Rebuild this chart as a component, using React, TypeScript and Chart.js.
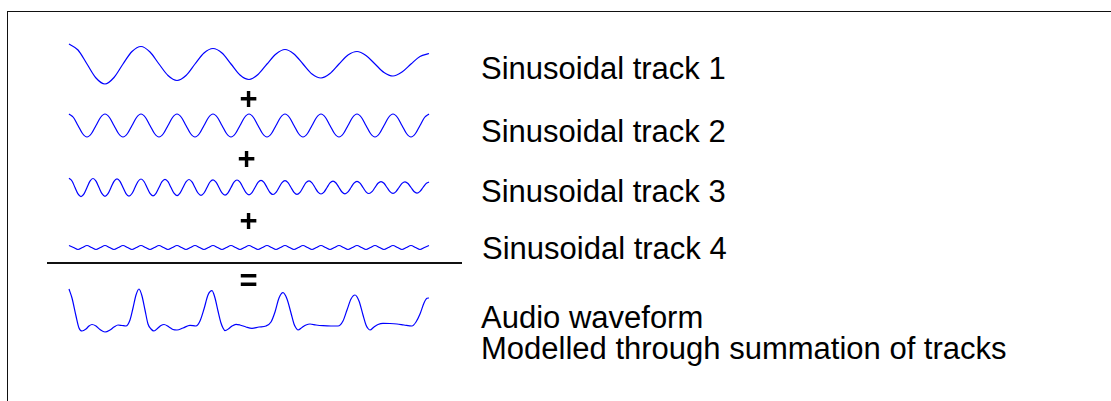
import React, { useEffect, useRef } from "react";
import { Chart, registerables } from "chart.js";

Chart.register(...registerables);

// ---- data (sample index along the time axis, 0..360) ----
const track1X = [0, 9, 18, 27, 36, 45, 54, 63, 72, 81, 90, 99, 108, 117, 126, 135, 144, 153, 162, 171, 180, 189, 198, 207, 216, 225, 234, 243, 252, 261, 270, 279, 288, 297, 306, 315, 324, 333, 342, 351, 360];
const track1Y = [20, 14, 0, -14, -20, -13.5, 0, 12.5, 17.5, 12, 0, -11.5, -16.5, -11.5, 0, 11, 15.5, 11, 0, -11, -15.5, -10.5, 0, 10, 14.5, 10, 0, -10, -14, -9.5, 0, 9, 12.5, 8.5, 0, -8.5, -12, -8, 0, 7.5, 10.5];

const track2X = [0, 4.5, 9, 13.5, 18, 22.5, 27, 31.5, 36, 40.5, 45, 49.5, 54, 58.5, 63, 67.5, 72, 76.5, 81, 85.5, 90, 94.5, 99, 103.5, 108, 112.5, 117, 121.5, 126, 130.5, 135, 139.5, 144, 148.5, 153, 157.5, 162, 166.5, 171, 175.5, 180, 184.5, 189, 193.5, 198, 202.5, 207, 211.5, 216, 220.5, 225, 229.5, 234, 238.5, 243, 247.5, 252, 256.5, 261, 265.5, 270, 274.5, 279, 283.5, 288, 292.5, 297, 301.5, 306, 310.5, 315, 319.5, 324, 328.5, 333, 337.5, 342, 346.5, 351, 355.5, 360];
const track2Y = [
  11.5, 8, 0, -8, -11.5, -8, 0, 8,
  11.5, 8, 0, -8, -11.5, -8, 0, 8,
  11.5, 8, 0, -8, -11.5, -8, 0, 8,
  11.5, 8, 0, -8, -11.5, -8, 0, 8,
  11.5, 8, 0, -8, -11.5, -8, 0, 8,
  11.5, 8, 0, -8, -11.5, -8, 0, 8,
  11.5, 8, 0, -8, -11.5, -8, 0, 8,
  11.5, 8, 0, -8, -11.5, -8, 0, 8,
  11.5, 8, 0, -8, -11.5, -8, 0, 8,
  11.5, 8, 0, -8, -11.5, -8, 0, 8,
  11.5,
];

const track3X = [0, 3, 6, 9, 12, 15, 18, 21, 24, 27, 30, 33, 36, 39, 42, 45, 48, 51, 54, 57, 60, 63, 66, 69, 72, 75, 78, 81, 84, 87, 90, 93, 96, 99, 102, 105, 108, 111, 114, 117, 120, 123, 126, 129, 132, 135, 138, 141, 144, 147, 150, 153, 156, 159, 162, 165, 168, 171, 174, 177, 180, 183, 186, 189, 192, 195, 198, 201, 204, 207, 210, 213, 216, 219, 222, 225, 228, 231, 234, 237, 240, 243, 246, 249, 252, 255, 258, 261, 264, 267, 270, 273, 276, 279, 282, 285, 288, 291, 294, 297, 300, 303, 306, 309, 312, 315, 318, 321, 324, 327, 330, 333, 336, 339, 342, 345, 348, 351, 354, 357, 360];
const track3Y = [
  9.2, 6.5, 0, -6.4, -9.1, -6.4, 0, 6.4,
  9.0, 6.3, 0, -6.2, -8.8, -6.2, 0, 6.2,
  8.7, 6.2, 0, -6.1, -8.6, -6.0, 0, 6.0,
  8.5, 6.0, 0, -5.9, -8.3, -5.8, 0, 5.8,
  8.2, 5.8, 0, -5.7, -8.1, -5.6, 0, 5.6,
  8.0, 5.6, 0, -5.5, -7.8, -5.5, 0, 5.5,
  7.7, 5.4, 0, -5.4, -7.6, -5.3, 0, 5.3,
  7.5, 5.3, 0, -5.2, -7.3, -5.1, 0, 5.1,
  7.2, 5.1, 0, -5.0, -7.0, -4.9, 0, 4.9,
  6.9, 4.9, 0, -4.8, -6.8, -4.8, 0, 4.8,
  6.7, 4.7, 0, -4.6, -6.5, -4.6, 0, 4.6,
  6.4, 4.5, 0, -4.5, -6.3, -4.4, 0, 4.4,
  6.2, 4.4, 0, -4.3, -6.0, -4.2, 0, 4.2,
  5.9, 4.2, 0, -4.1, -5.8, -4.1, 0, 4.1,
  5.7, 4.0, 0, -4.0, -5.6, -3.9, 0, 3.9,
  5.5,
];

const track4X = [0, 4.5, 9, 13.5, 18, 22.5, 27, 31.5, 36, 40.5, 45, 49.5, 54, 58.5, 63, 67.5, 72, 76.5, 81, 85.5, 90, 94.5, 99, 103.5, 108, 112.5, 117, 121.5, 126, 130.5, 135, 139.5, 144, 148.5, 153, 157.5, 162, 166.5, 171, 175.5, 180, 184.5, 189, 193.5, 198, 202.5, 207, 211.5, 216, 220.5, 225, 229.5, 234, 238.5, 243, 247.5, 252, 256.5, 261, 265.5, 270, 274.5, 279, 283.5, 288, 292.5, 297, 301.5, 306, 310.5, 315, 319.5, 324, 328.5, 333, 337.5, 342, 346.5, 351, 355.5, 360];
const track4Y = [
  2, 0, -2, 0, 2, 0, -2, 0, 2, 0, -2, 0, 2, 0, -2, 0, 2, 0, -2, 0,
  2, 0, -2, 0, 2, 0, -2, 0, 2, 0, -2, 0, 2, 0, -2, 0, 2, 0, -2, 0,
  2, 0, -2, 0, 2, 0, -2, 0, 2, 0, -2, 0, 2, 0, -2, 0, 2, 0, -2, 0,
  2, 0, -2, 0, 2, 0, -2, 0, 2, 0, -2, 0, 2, 0, -2, 0, 2, 0, -2, 0,
  2,
];

const audioX = [0, 3, 7, 10, 13, 17, 20, 23, 27, 31, 36, 41, 45, 49, 53, 57, 61, 64, 67, 70, 73, 76, 79, 82, 85, 89, 92, 95, 100, 104, 108, 114, 121, 127, 131, 135, 139, 143, 146, 149, 152, 154, 156, 160, 163, 167, 171, 177, 183, 190, 197, 202, 206, 210, 214, 218, 222, 225, 227, 229, 233, 237, 241, 247, 254, 262, 269, 274, 278, 282, 286, 290, 294, 297, 299, 301, 305, 309, 314, 321, 328, 335, 343, 347, 351, 355, 358, 360];
const audioY = [37, 28, 10, -2, -5, -3, 0, 1.5, 0, -3.5, -6, -4, -1, 1, 0.5, 0, 6, 18, 31, 37, 30, 16, 2, -3, -5, -2, 0.5, 1.5, -1, -3.5, -4, -2, 0.7, 0, 5, 17, 31, 35.3, 28, 15, 3, -2, -4.7, -2.5, 0, 1.7, 1, -1, -2.3, -1, 0, 4, 14, 28, 33.3, 27, 13, 2, -2, -4, -1.5, 1, 2, 1, 0.3, 0, 0, 5, 16, 27, 31, 25, 11, 1, -2.5, -4, -1, 1.5, 2.7, 2.5, 2, 1, 0, 4, 12, 23, 27.7, 28];

const trackLabels = ["Sinusoidal track 1", "Sinusoidal track 2", "Sinusoidal track 3", "Sinusoidal track 4"];
const resultLabels = ["Audio waveform", "Modelled through summation of tracks"];
const operators = ["+", "+", "+", "="];

const FONT = '"Liberation Sans", Arial, Helvetica, sans-serif';
const LINE_COLOR = "#0000ff";

type WaveProps = { xs: number[]; ys: number[]; top: number; height: number; yMin: number; yMax: number };

function Wave({ xs, ys, top, height, yMin, yMax }: WaveProps) {
  const ref = useRef<HTMLCanvasElement | null>(null);
  useEffect(() => {
    if (!ref.current) return;
    const chart = new Chart(ref.current, {
      type: "line",
      data: {
        datasets: [
          {
            data: xs.map((x, i) => ({ x, y: ys[i] })),
            borderColor: LINE_COLOR,
            borderWidth: 1.2,
            pointRadius: 0,
            fill: false,
            cubicInterpolationMode: "monotone",
            clip: false as any,
          },
        ],
      },
      options: {
        animation: false,
        responsive: false,
        maintainAspectRatio: false,
        events: [],
        layout: { padding: { left: 4, right: 4, top: 4, bottom: 4 } },
        plugins: { legend: { display: false }, tooltip: { enabled: false } },
        scales: {
          x: { type: "linear", min: 0, max: 360, display: false },
          y: { type: "linear", min: yMin, max: yMax, display: false },
        },
      },
    });
    return () => chart.destroy();
  }, [xs, ys, yMin, yMax]);
  return (
    <canvas
      ref={ref}
      width={368}
      height={height}
      style={{ position: "absolute", left: 65, top, width: 368, height }}
    />
  );
}

const FS = 31;

function Text({ lines, left, baseline, center, bold, lineStep }: { lines: string[]; left: number; baseline: number; center?: boolean; bold?: boolean; lineStep?: number }) {
  const lh = lineStep ?? 26;
  const top = baseline - (lh / 2 + 0.3465 * FS);
  return (
    <div
      style={{
        position: "absolute",
        left: center ? left - 30 : left,
        width: center ? 60 : undefined,
        textAlign: center ? "center" : "left",
        top,
        fontFamily: FONT,
        fontSize: FS,
        fontWeight: bold ? "bold" : "normal",
        lineHeight: `${lh}px`,
        color: "#000",
        whiteSpace: "nowrap",
      }}
    >
      {lines.map((l, i) => (
        <React.Fragment key={i}>
          {i > 0 && <br />}
          {l}
        </React.Fragment>
      ))}
    </div>
  );
}

export default function App() {
  const labelBaselines = [80, 143, 203, 260];
  const resultBaseline = 328;
  const opCenters = [248.5, 246.5, 248.5, 248.5];
  const opBaselines = [109.5, 170, 231.5, 291.5];
  return (
    <div
      style={{
        position: "fixed",
        left: 0,
        top: 0,
        width: 1111,
        height: 401,
        background: "#fff",
        overflow: "hidden",
      }}
    >
      <div
        style={{
          position: "absolute",
          left: 7,
          top: 11,
          width: 1200,
          height: 500,
          borderLeft: "1px solid #111",
          borderTop: "1px solid #111",
        }}
      />
      <Wave xs={track1X} ys={track1Y} top={36} height={56} yMin={-24} yMax={24} />
      <Wave xs={track2X} ys={track2Y} top={108} height={36} yMin={-14.5} yMax={13.5} />
      <Wave xs={track3X} ys={track3Y} top={171} height={32} yMin={-11.5} yMax={12.5} />
      <Wave xs={track4X} ys={track4Y} top={237} height={20} yMin={-5.5} yMax={6.5} />
      <Wave xs={audioX} ys={audioY} top={280} height={62} yMin={-12} yMax={42} />
      <div
        style={{ position: "absolute", left: 47, top: 262, width: 415, height: 2, background: "#111" }}
      />
      {operators.map((op, i) => (
        <Text key={"op" + i} lines={[op]} left={opCenters[i]} baseline={opBaselines[i]} center bold />
      ))}
      {trackLabels.map((t, i) => (
        <Text key={"tl" + i} lines={[t]} left={i === 3 ? 482 : 481} baseline={labelBaselines[i]} />
      ))}
      <Text lines={resultLabels} left={481} baseline={resultBaseline} lineStep={31} />
    </div>
  );
}
